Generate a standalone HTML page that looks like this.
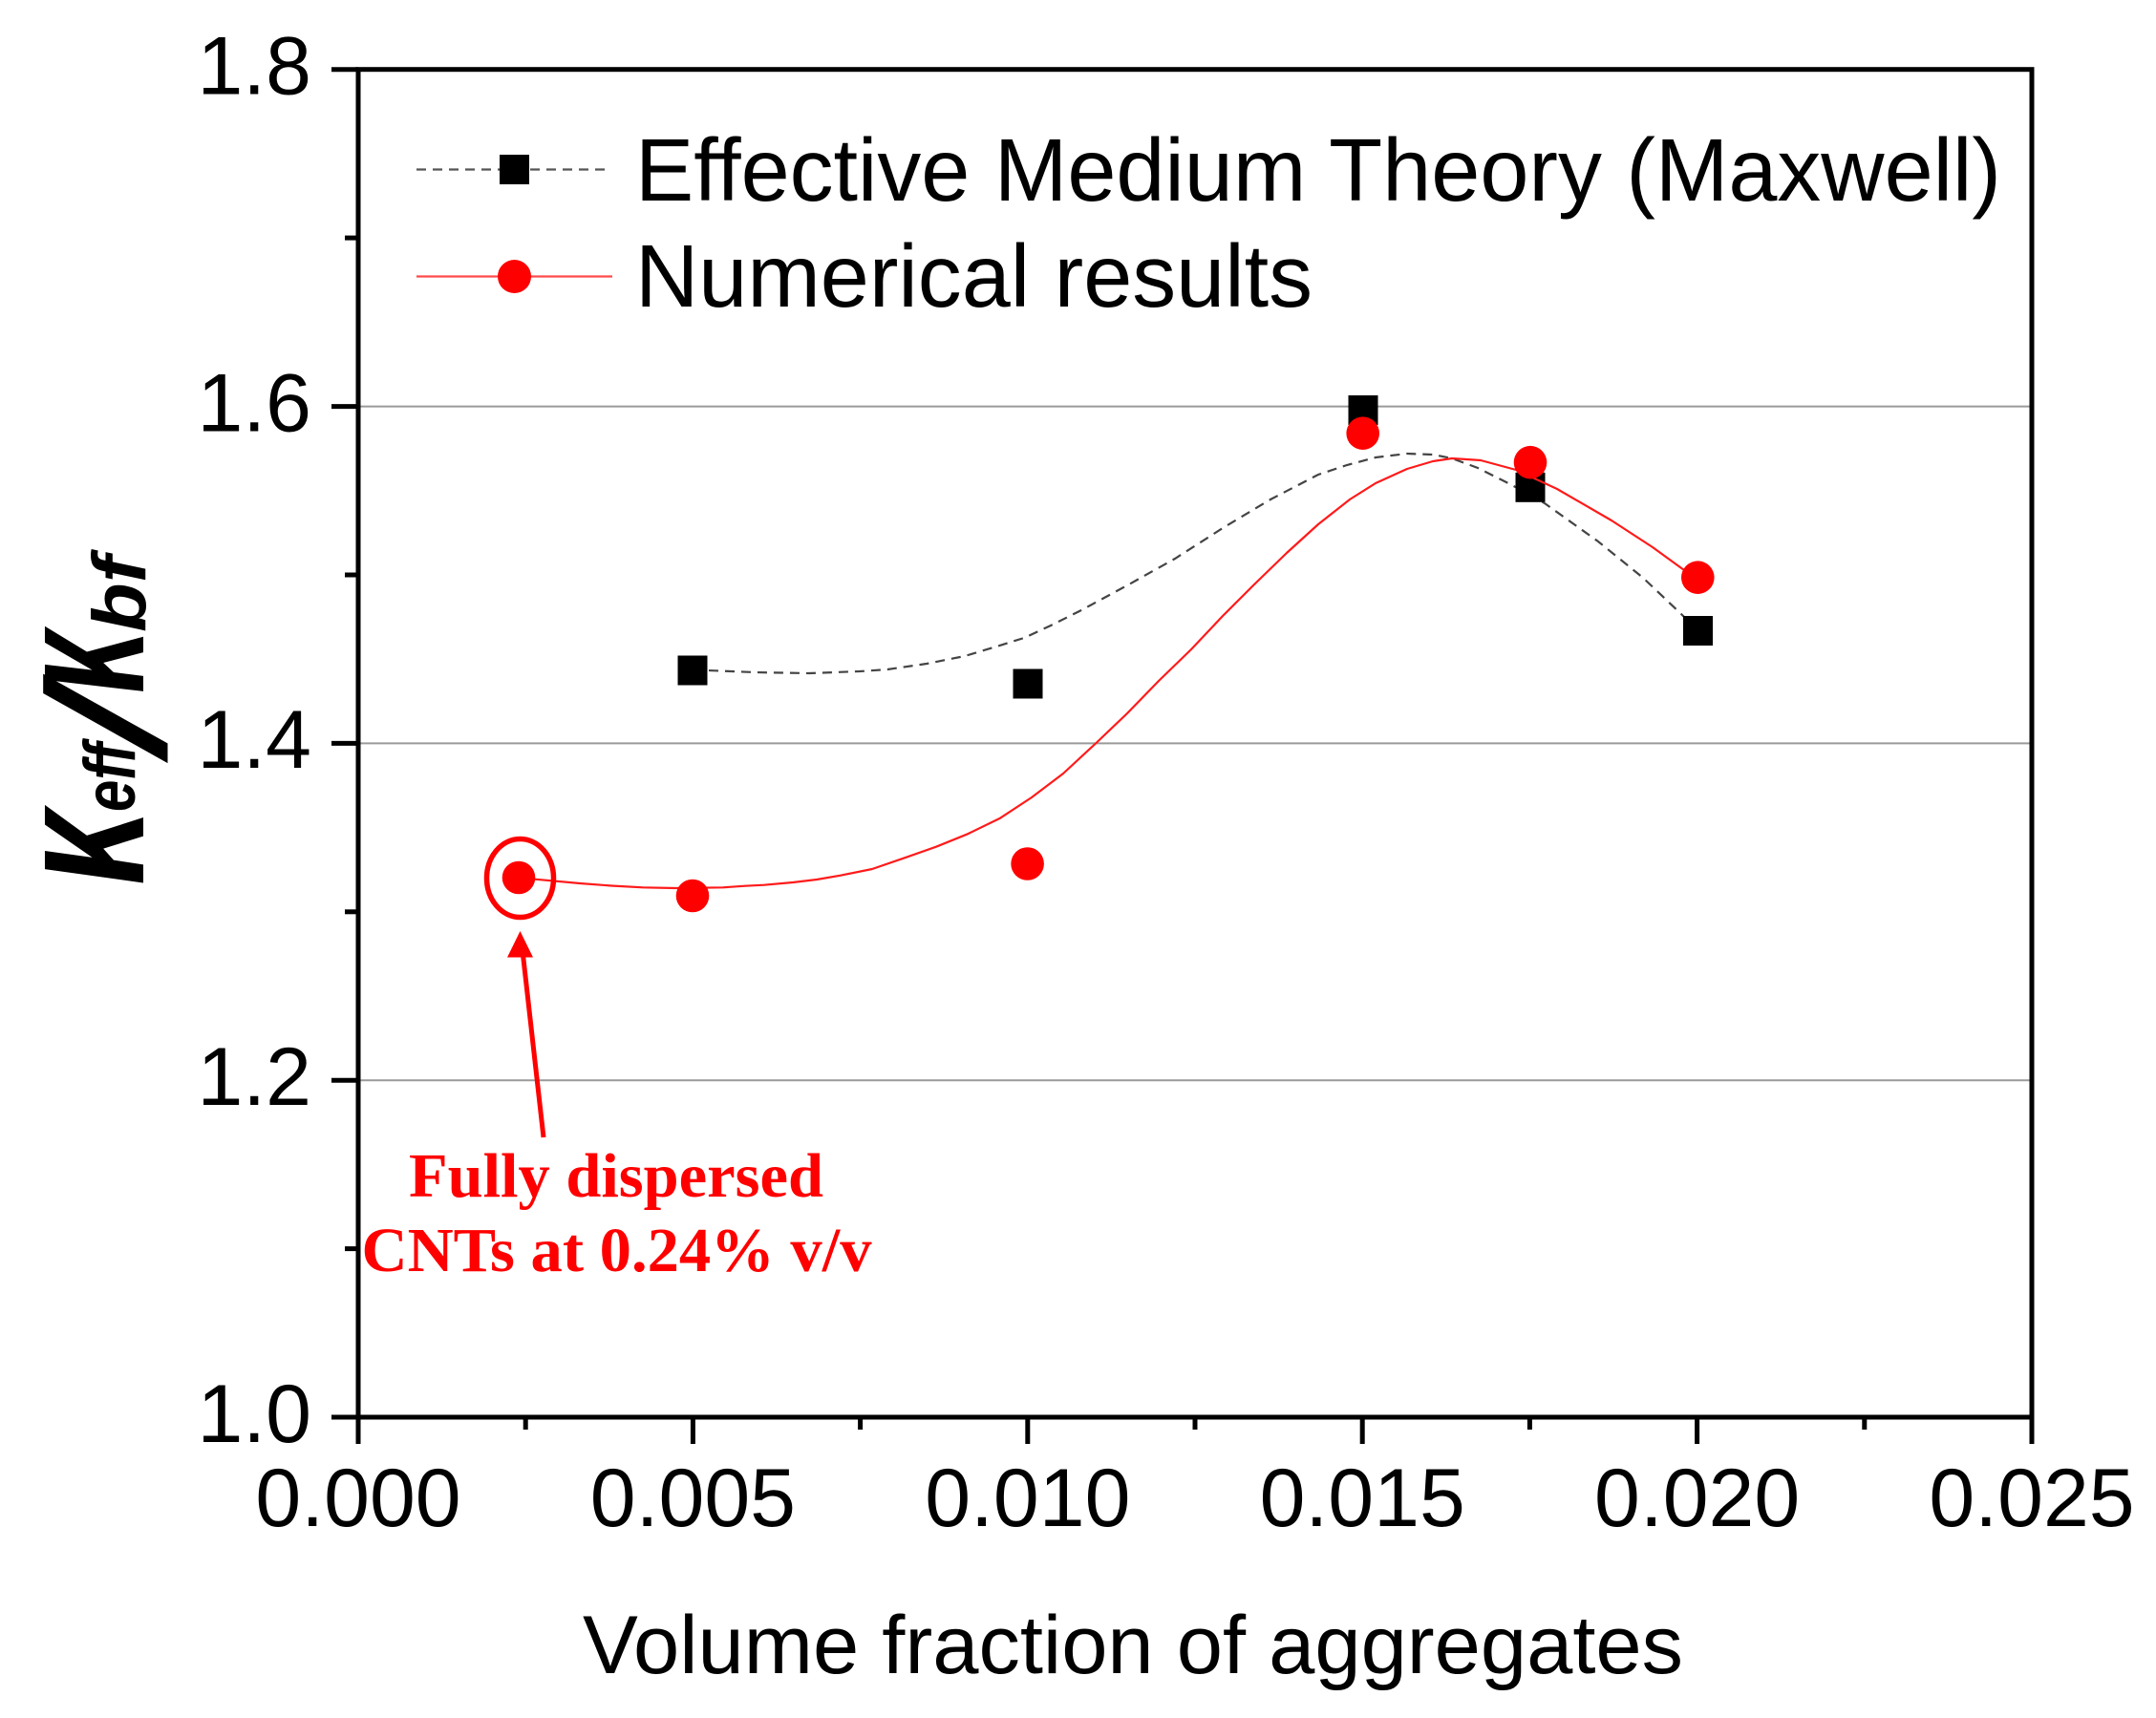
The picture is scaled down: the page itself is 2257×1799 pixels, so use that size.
<!DOCTYPE html>
<html>
<head>
<meta charset="utf-8">
<style>
  html, body { margin: 0; padding: 0; background: #ffffff; }
  svg { display: block; }
</style>
</head>
<body>
<svg width="2257" height="1799" viewBox="0 0 2257 1799" xmlns="http://www.w3.org/2000/svg">
  <rect x="0" y="0" width="2257" height="1799" fill="#ffffff"/>

  <!-- gridlines -->
  <g stroke="#9a9a9a" stroke-width="2">
    <line x1="375" y1="425.6" x2="2127" y2="425.6"/>
    <line x1="375" y1="778.4" x2="2127" y2="778.4"/>
    <line x1="375" y1="1131.2" x2="2127" y2="1131.2"/>
  </g>

  <!-- frame -->
  <rect x="375" y="72.7" width="1752" height="1411.3" fill="none" stroke="#000" stroke-width="5"/>

  <!-- y ticks -->
  <g stroke="#000" stroke-width="5">
    <line x1="347" y1="72.7" x2="375" y2="72.7"/>
    <line x1="347" y1="425.6" x2="375" y2="425.6"/>
    <line x1="347" y1="778.4" x2="375" y2="778.4"/>
    <line x1="347" y1="1131.2" x2="375" y2="1131.2"/>
    <line x1="347" y1="1484" x2="375" y2="1484"/>
    <line x1="361" y1="249.1" x2="375" y2="249.1"/>
    <line x1="361" y1="602" x2="375" y2="602"/>
    <line x1="361" y1="954.8" x2="375" y2="954.8"/>
    <line x1="361" y1="1307.6" x2="375" y2="1307.6"/>
  </g>
  <!-- x ticks -->
  <g stroke="#000" stroke-width="5">
    <line x1="375" y1="1484" x2="375" y2="1512"/>
    <line x1="725.4" y1="1484" x2="725.4" y2="1512"/>
    <line x1="1075.8" y1="1484" x2="1075.8" y2="1512"/>
    <line x1="1426.2" y1="1484" x2="1426.2" y2="1512"/>
    <line x1="1776.6" y1="1484" x2="1776.6" y2="1512"/>
    <line x1="2127" y1="1484" x2="2127" y2="1512"/>
    <line x1="550.2" y1="1484" x2="550.2" y2="1497"/>
    <line x1="900.6" y1="1484" x2="900.6" y2="1497"/>
    <line x1="1251" y1="1484" x2="1251" y2="1497"/>
    <line x1="1601.4" y1="1484" x2="1601.4" y2="1497"/>
    <line x1="1951.8" y1="1484" x2="1951.8" y2="1497"/>
  </g>

  <!-- y tick labels -->
  <g font-family="'Liberation Sans', Arial, sans-serif" font-size="86" fill="#000" text-anchor="end">
    <text x="326" y="98.5">1.8</text>
    <text x="326" y="451.3">1.6</text>
    <text x="326" y="804">1.4</text>
    <text x="326" y="1157">1.2</text>
    <text x="326" y="1510">1.0</text>
  </g>
  <!-- x tick labels -->
  <g font-family="'Liberation Sans', Arial, sans-serif" font-size="86" fill="#000" text-anchor="middle">
    <text x="375" y="1598">0.000</text>
    <text x="725.4" y="1598">0.005</text>
    <text x="1075.8" y="1598">0.010</text>
    <text x="1426.2" y="1598">0.015</text>
    <text x="1776.6" y="1598">0.020</text>
    <text x="2127" y="1598">0.025</text>
  </g>

  <!-- x axis title -->
  <text x="610" y="1752" font-family="'Liberation Sans', Arial, sans-serif" font-size="86" fill="#000" textLength="1152" lengthAdjust="spacingAndGlyphs">Volume fraction of aggregates</text>

  <!-- y axis title (rotated) -->
  <g font-family="'Liberation Sans', Arial, sans-serif" font-weight="bold" font-style="italic" fill="#000">
    <text transform="translate(150,927) rotate(-90) scale(1,1.3)" font-size="150" textLength="79" lengthAdjust="spacingAndGlyphs">κ</text>
    <text transform="translate(141,850) rotate(-90) scale(1,1.15)" font-size="66" textLength="72" lengthAdjust="spacingAndGlyphs">eff</text>
    <text transform="translate(172,792) rotate(-90) skewX(-10)" font-size="175">/</text>
    <text transform="translate(150,726) rotate(-90) scale(1,1.3)" font-size="150" textLength="66" lengthAdjust="spacingAndGlyphs">κ</text>
    <text transform="translate(152,662) rotate(-90) scale(1,1.1)" font-size="72" textLength="80" lengthAdjust="spacingAndGlyphs">bf</text>
  </g>

  <!-- EMT dashed curve -->
  <polyline fill="none" stroke="#444" stroke-width="2.2" stroke-dasharray="10 7"
    points="725,702 741,702 790,704 847,705 900,703 929,701 970,695 1010,687 1040,678 1072,668 1100,655 1130,640 1180,613 1230,585 1280,553 1330,523 1380,497 1410,487 1440,479 1473,475 1500,476 1520,480 1547,490 1573,503 1600,517 1617,527 1673,567 1720,605 1760,643 1777,660"/>

  <!-- EMT squares -->
  <g fill="#000">
    <rect x="709.5" y="686.5" width="31" height="31"/>
    <rect x="1060.5" y="700.5" width="31" height="31"/>
    <rect x="1411.5" y="414" width="31" height="31"/>
    <rect x="1586.5" y="494.8" width="31" height="31"/>
    <rect x="1762" y="645" width="31" height="31"/>
  </g>

  <!-- Numerical red curve -->
  <polyline fill="none" stroke="#ff1a1a" stroke-width="2.2" stroke-linejoin="round"
    points="543,919 560,920.7 607,925 640,927.5 673,929.3 707,930 757,929.3 780,927.7 800,926.7 830,924 855,921 880,916.7 913,910 947,898.3 980,886.7 1013,873.3 1047,856.7 1080,835 1113,810 1147,778.5 1180,747 1213,713 1247,680 1280,645 1313,612 1347,579 1380,549 1413,523 1440,506 1473,491 1500,483 1520,480 1550,482 1587,492 1630,512 1687,545 1730,573 1763,597 1777,605"/>

  <!-- Numerical red circles -->
  <g fill="#ff0000">
    <circle cx="543" cy="919" r="17.3"/>
    <circle cx="725" cy="938" r="17.3"/>
    <circle cx="1075.6" cy="904.5" r="17.3"/>
    <circle cx="1426.7" cy="453.7" r="17.3"/>
    <circle cx="1602" cy="484.2" r="17.3"/>
    <circle cx="1777.3" cy="604.7" r="17.3"/>
  </g>

  <!-- highlight ring -->
  <ellipse cx="544.5" cy="919.5" rx="35" ry="41" fill="none" stroke="#ff0000" stroke-width="5.5"/>

  <!-- arrow -->
  <line x1="569" y1="1191" x2="547.5" y2="1000" stroke="#ff0000" stroke-width="5"/>
  <polygon points="544.5,975 531,1002.5 558,1002.5" fill="#ff0000"/>

  <!-- annotation -->
  <g font-family="'Liberation Serif', 'Times New Roman', serif" font-weight="bold" font-size="66" fill="#ff0000" text-anchor="middle">
    <text x="645" y="1253" textLength="434" lengthAdjust="spacingAndGlyphs">Fully dispersed</text>
    <text x="645.5" y="1331" textLength="534" lengthAdjust="spacingAndGlyphs">CNTs at 0.24% v/v</text>
  </g>

  <!-- legend -->
  <line x1="436" y1="177.5" x2="635" y2="177.5" stroke="#555" stroke-width="2.2" stroke-dasharray="10 7"/>
  <rect x="523" y="162" width="31" height="31" fill="#000"/>
  <line x1="436" y1="289.5" x2="641" y2="289.5" stroke="#ff4a4a" stroke-width="2.2"/>
  <circle cx="538.5" cy="289.5" r="17.5" fill="#ff0000"/>
  <g font-family="'Liberation Sans', Arial, sans-serif" font-size="93" fill="#000">
    <text x="665" y="210" textLength="1430" lengthAdjust="spacingAndGlyphs">Effective Medium Theory (Maxwell)</text>
    <text x="665" y="321" textLength="709" lengthAdjust="spacingAndGlyphs">Numerical results</text>
  </g>
</svg>
</body>
</html>
